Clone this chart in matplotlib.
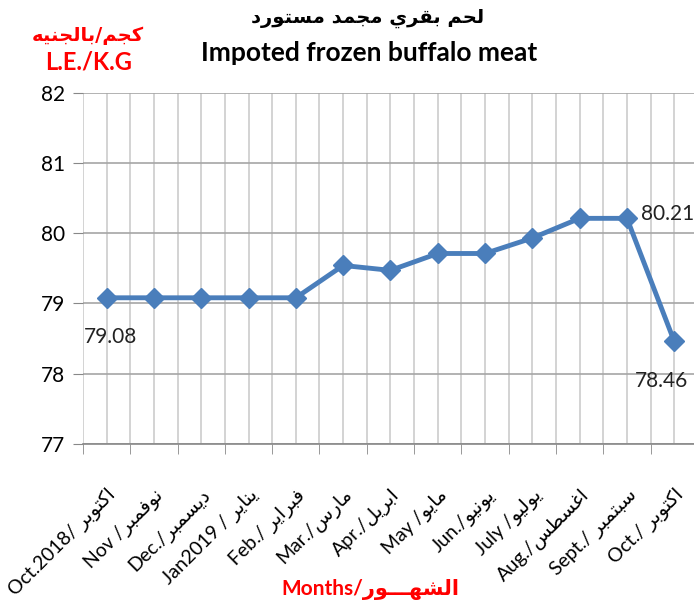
import matplotlib.pyplot as plt
from matplotlib.ticker import MultipleLocator

months = ["Oct.2018/ اكتوبر", "Nov /نوفمبر", "Dec./ديسمبر", "Jan2019 / يناير",
          "Feb./ فبراير", "Mar./مارس", "Apr./ابريل", "May /مايو", "Jun./يونيو",
          "July /يوليو", "Aug./اغسطس", "Sept./ سبتمبر", "Oct./ اكتوبر"]
prices = [79.08, 79.08, 79.08, 79.08, 79.08, 79.54, 79.47, 79.71, 79.71,
          79.93, 80.21, 80.21, 78.46]
title_ar = "لحم بقري مجمد مستورد"
title_en = "Impoted frozen buffalo meat"
unit_ar = "بالجنيه/كجم"
unit_en = "L.E./K.G"
xlabel = "Months/الشهـــور"

# presentation forms: isolated, final, initial, medial
FORMS = {
    "ا": ("\ufe8d", "\ufe8e"), "ب": ("\ufe8f", "\ufe90", "\ufe91", "\ufe92"),
    "ة": ("\ufe93", "\ufe94"), "ت": ("\ufe95", "\ufe96", "\ufe97", "\ufe98"),
    "ج": ("\ufe9d", "\ufe9e", "\ufe9f", "\ufea0"), "ح": ("\ufea1", "\ufea2", "\ufea3", "\ufea4"),
    "د": ("\ufea9", "\ufeaa"), "ر": ("\ufead", "\ufeae"), "ز": ("\ufeaf", "\ufeb0"),
    "س": ("\ufeb1", "\ufeb2", "\ufeb3", "\ufeb4"), "ش": ("\ufeb5", "\ufeb6", "\ufeb7", "\ufeb8"),
    "ط": ("\ufec1", "\ufec2", "\ufec3", "\ufec4"), "غ": ("\ufecd", "\ufece", "\ufecf", "\ufed0"),
    "ف": ("\ufed1", "\ufed2", "\ufed3", "\ufed4"), "ق": ("\ufed5", "\ufed6", "\ufed7", "\ufed8"),
    "ك": ("\ufed9", "\ufeda", "\ufedb", "\ufedc"), "ل": ("\ufedd", "\ufede", "\ufedf", "\ufee0"),
    "م": ("\ufee1", "\ufee2", "\ufee3", "\ufee4"), "ن": ("\ufee5", "\ufee6", "\ufee7", "\ufee8"),
    "ه": ("\ufee9", "\ufeea", "\ufeeb", "\ufeec"), "و": ("\ufeed", "\ufeee"),
    "ي": ("\ufef1", "\ufef2", "\ufef3", "\ufef4"),
}
TATWEEL = "ـ"


def is_ar(c):
    return c in FORMS or c == TATWEEL


def joins_left(c):
    return c == TATWEEL or (c in FORMS and len(FORMS[c]) == 4)


def shape_word(w):
    out = []
    for i, c in enumerate(w):
        if c not in FORMS:
            out.append(c)
            continue
        prev = w[i - 1] if i > 0 else ""
        nxt = w[i + 1] if i + 1 < len(w) else ""
        j_prev = prev != "" and joins_left(prev)
        j_next = nxt != "" and is_ar(nxt) and joins_left(c)
        f = FORMS[c]
        if j_prev and j_next:
            out.append(f[3])
        elif j_prev:
            out.append(f[1])
        elif j_next:
            out.append(f[2])
        else:
            out.append(f[0])
    return "".join(out)


def ar(text):
    # shape Arabic runs and put them in visual order
    runs, cur, cur_ar = [], "", None
    for c in text:
        a = is_ar(c) or (c == " " and cur_ar)
        if cur_ar is None or a == cur_ar:
            cur += c
        else:
            runs.append((cur, cur_ar))
            cur = c
        cur_ar = a
    runs.append((cur, cur_ar))
    res = ""
    for r, a in runs:
        if a:
            words = r.split(" ")
            res += " ".join(shape_word(w)[::-1] for w in words[::-1])
        else:
            res += r
    return res


plt.rcParams["font.family"] = ["Lato", "DejaVu Sans"]
blue = "#4a7ebb"

fig = plt.figure(figsize=(6.94, 6.11), dpi=100)
ax = fig.add_axes([0.1196, 0.2733, 0.886, 0.5753])
x = list(range(len(prices)))
ax.plot(x, prices, color=blue, lw=3.5, marker="D", ms=10.5, zorder=3)

ax.set_xlim(-0.5, len(prices) - 0.5)
ax.set_ylim(77, 82)
ax.yaxis.set_major_locator(MultipleLocator(1))
ax.set_xticks(x)
ax.set_xticklabels([ar(m) for m in months], rotation=45, ha="right",
                   rotation_mode="anchor", fontsize=14)
ax.set_xticks([i - 0.5 for i in range(len(prices) + 1)], minor=True)
ax.tick_params(axis="x", which="major", length=0, pad=30)
ax.tick_params(axis="x", which="minor", length=7, color="#888888", direction="out")
ax.tick_params(axis="y", length=7, color="#888888", labelsize=15, pad=6)
ax.grid(axis="x", which="both", color="#cccccc", lw=1.2)
ax.grid(axis="y", which="major", color="#a6a6a6", lw=1.2)
for s in ["top", "right", "left"]:
    ax.spines[s].set_visible(False)
ax.spines["bottom"].set_color("#888888")
ax.spines["bottom"].set_linewidth(1.2)

ax.annotate(f"{prices[0]:.2f}", (0, prices[0]), xytext=(3, -21), textcoords="offset points",
            ha="center", va="top", fontsize=15, color="#222222")
ax.annotate(f"{prices[11]:.2f}", (11, prices[11]), xytext=(10, 3), textcoords="offset points",
            ha="left", va="center", fontsize=15, color="#222222")
ax.annotate(f"{prices[12]:.2f}", (12, prices[12]), xytext=(-9, -21), textcoords="offset points",
            ha="center", va="top", fontsize=15, color="#222222")

fig.text(0.529, 0.97, ar(title_ar), ha="center", va="center", fontsize=14,
         fontweight="bold", family=["DejaVu Sans"])
fig.text(0.532, 0.913, title_en, ha="center", va="center", fontsize=19, fontweight="bold")
fig.text(0.127, 0.942, ar(unit_ar), ha="center", va="center", fontsize=14,
         fontweight="bold", color="#ff0000", family=["DejaVu Sans"])
fig.text(0.127, 0.898, unit_en, ha="center", va="center", fontsize=17,
         fontweight="bold", color="#ff0000")
fig.text(0.533, 0.035, ar(xlabel), ha="center", va="center", fontsize=15,
         fontweight="bold", color="#ff0000")

fig.savefig("out.png", dpi=100)
